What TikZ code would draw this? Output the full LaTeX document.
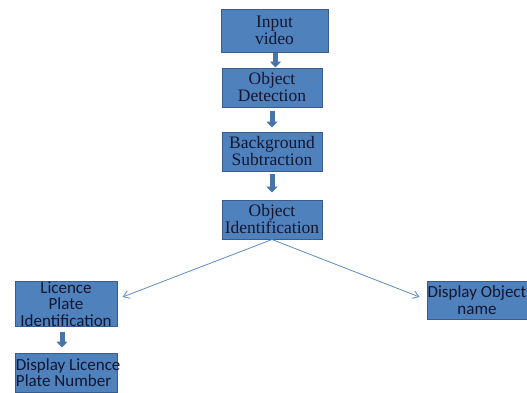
\documentclass[tikz,border=0pt]{standalone}
\usepackage{fontspec}
\setmainfont{Liberation Serif}
\newfontfamily\calfont{Carlito}
\usetikzlibrary{arrows.meta}
\definecolor{boxfill}{RGB}{79,129,189}
\definecolor{boxline}{RGB}{56,93,138}
\definecolor{boxtext}{RGB}{18,22,48}
\definecolor{thinline}{RGB}{92,140,196}
\begin{document}
\begin{tikzpicture}[x=1pt,y=-1pt,
    stagebox/.style={draw=boxline, fill=boxfill, line width=1pt, inner sep=0pt,
      align=center, text=boxtext, font=\fontsize{17.5}{17}\selectfont},
    sansbox/.style={stagebox, font=\calfont\fontsize{17}{16.5}\selectfont},
    blockarrow/.style={draw=boxfill!90!black, line width=5pt,
      -{Triangle[width=11pt,length=6pt]}},
    thinarrow/.style={draw=thinline, line width=0.8pt,
      -{Straight Barb[length=6pt,width=8pt]}}]

        \fill[white] (0,0) rectangle (527,392);
        \useasboundingbox (0,0) rectangle (527,392);

        \node[stagebox, minimum width=107pt, minimum height=43pt] (input) at (274.5,30.5) {Input\\video};
        \node[stagebox, minimum width=100pt, minimum height=39pt] (detect) at (272,87.5) {Object\\Detection};
        \node[stagebox, minimum width=100pt, minimum height=39pt] (backsub) at (272,151.5) {Background\\Subtraction};
        \node[stagebox, minimum width=100pt, minimum height=39pt] (ident) at (272,219.5) {Object\\Identification};

        \node[sansbox, minimum width=102pt, minimum height=38pt] (plate) at (66,304) {Licence\\Plate\\Identification};
        \node[sansbox, minimum width=102pt, minimum height=39pt] (platenum) at (66,372.5) {};
        \node[sansbox, draw=none, fill=none, align=left, anchor=west] (platenumtext) at ([xshift=1pt]platenum.west) {Display Licence\\Plate Number};
        \node[sansbox, minimum width=100pt, minimum height=38pt] (objname) at (477,300) {};
        \node[sansbox, draw=none, fill=none] (objnametext) at (objname.center) {Display Object\\name};

        \draw[blockarrow] (input.south) ++(1,0) coordinate (a1) -- (a1 |- detect.north);
        \draw[blockarrow] ([yshift=-3pt]detect.south) -- ([yshift=4pt]backsub.north);
        \draw[blockarrow] ([yshift=-2pt]backsub.south) -- ([yshift=7pt]ident.north);
        \draw[blockarrow] ([xshift=-4pt,yshift=-5pt]plate.south) -- ([xshift=-4pt,yshift=5pt]platenum.north);

        \draw[thinarrow] (ident.south) -- ([xshift=5pt,yshift=7pt]plate.east);
        \draw[thinarrow] (ident.south) -- ([xshift=-7pt,yshift=3pt]objname.west);

\end{tikzpicture}
\end{document}
